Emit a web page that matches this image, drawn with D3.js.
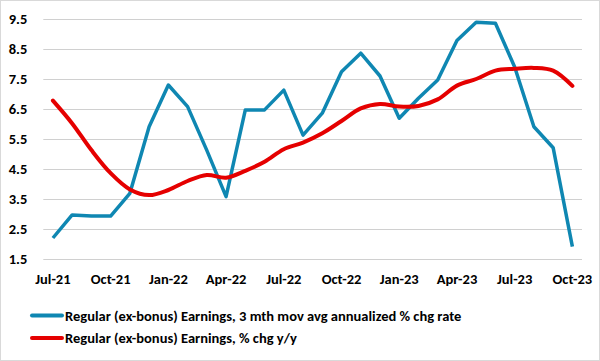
<!DOCTYPE html>
<html><head><meta charset="utf-8">
<script src="https://cdn.jsdelivr.net/npm/d3@7"></script>
<style>body{margin:0;background:#fff}svg{display:block}</style>
</head><body>
<script>
const months = ["Jul-21","Aug-21","Sep-21","Oct-21","Nov-21","Dec-21","Jan-22","Feb-22","Mar-22","Apr-22","May-22","Jun-22","Jul-22","Aug-22","Sep-22","Oct-22","Nov-22","Dec-22","Jan-23","Feb-23","Mar-23","Apr-23","May-23","Jun-23","Jul-23","Aug-23","Sep-23","Oct-23"];
const annualized3m = [2.2,2.97,2.93,2.93,3.69,5.91,7.3,6.58,5.12,3.58,6.47,6.47,7.13,5.63,6.36,7.74,8.36,7.6,6.19,6.86,7.47,8.78,9.39,9.36,7.9,5.91,5.21,1.91];
const yoy = [6.78,6.02,5.13,4.36,3.82,3.63,3.8,4.1,4.3,4.21,4.44,4.74,5.16,5.38,5.69,6.1,6.52,6.67,6.58,6.6,6.82,7.28,7.5,7.78,7.84,7.87,7.78,7.27];
const yTicks = [1.5,2.5,3.5,4.5,5.5,6.5,7.5,8.5,9.5];
const xTickLabels = ["Jul-21","Oct-21","Jan-22","Apr-22","Jul-22","Oct-22","Jan-23","Apr-23","Jul-23","Oct-23"];
const seriesNames = ["Regular (ex-bonus) Earnings, 3 mth mov avg annualized % chg rate","Regular (ex-bonus) Earnings, % chg y/y"];
const colors = ["#0f87b2","#e50000"];

const W=600,H=361;
const font = "Calibri, Carlito, 'Open Sans', sans-serif";
const svg = d3.select("body").append("svg").attr("width",W).attr("height",H);
svg.append("rect").attr("x",0.5).attr("y",0.5).attr("width",W-1).attr("height",H-1).attr("fill","#fff").attr("stroke","#d9d9d9");

const pLeft=43.3,pRight=582,pTop=19,pBottom=259;
const x = d3.scaleBand().domain(months).range([pLeft,pRight]);
const xp = m => x(m)+x.bandwidth()/2;
const y = d3.scaleLinear().domain([1.5,9.5]).range([pBottom,pTop]);

const yAxis = d3.axisLeft(y).tickValues(yTicks).tickFormat(d3.format(".1f")).tickSize(-(pRight-pLeft)).tickPadding(16);
const gy = svg.append("g").attr("transform",`translate(${pLeft},0)`).call(yAxis);
gy.select(".domain").remove();
gy.selectAll(".tick line").attr("stroke","#d0d0d0").attr("stroke-width",1);
gy.selectAll(".tick text").attr("font-family",font).attr("font-weight","bold").attr("font-size",14.5).attr("fill","#000");

const xAxis = d3.axisBottom(x).tickValues(xTickLabels).tickSize(0).tickPadding(15);
const gx = svg.append("g").attr("transform",`translate(0,${pBottom})`).call(xAxis);
gx.select(".domain").remove();
gx.selectAll(".tick text").attr("font-family",font).attr("font-weight","bold").attr("font-size",14.5).attr("fill","#000");

const lineStraight = d3.line().x((d,i)=>xp(months[i])).y(d=>y(d));
const lineSmooth = d3.line().x((d,i)=>xp(months[i])).y(d=>y(d)).curve(d3.curveCatmullRom.alpha(0.5));

svg.append("path").datum(annualized3m).attr("d",lineStraight).attr("fill","none").attr("stroke",colors[0]).attr("stroke-width",3.5).attr("stroke-linejoin","round");
svg.append("path").datum(yoy).attr("d",lineSmooth).attr("fill","none").attr("stroke",colors[1]).attr("stroke-width",4).attr("stroke-linejoin","round").attr("stroke-linecap","round");

const leg = svg.append("g");
[0,1].forEach(i=>{
  const cy = i===0?315.5:338;
  leg.append("line").attr("x1",32).attr("x2",62).attr("y1",cy).attr("y2",cy).attr("stroke",colors[i]).attr("stroke-width",4).attr("stroke-linecap","round");
  leg.append("text").attr("x",65).attr("y",cy).attr("dy","0.35em").attr("font-family",font).attr("font-weight","bold").attr("font-size",14.5).attr("fill","#000").text(seriesNames[i]);
});
</script>
</body></html>
